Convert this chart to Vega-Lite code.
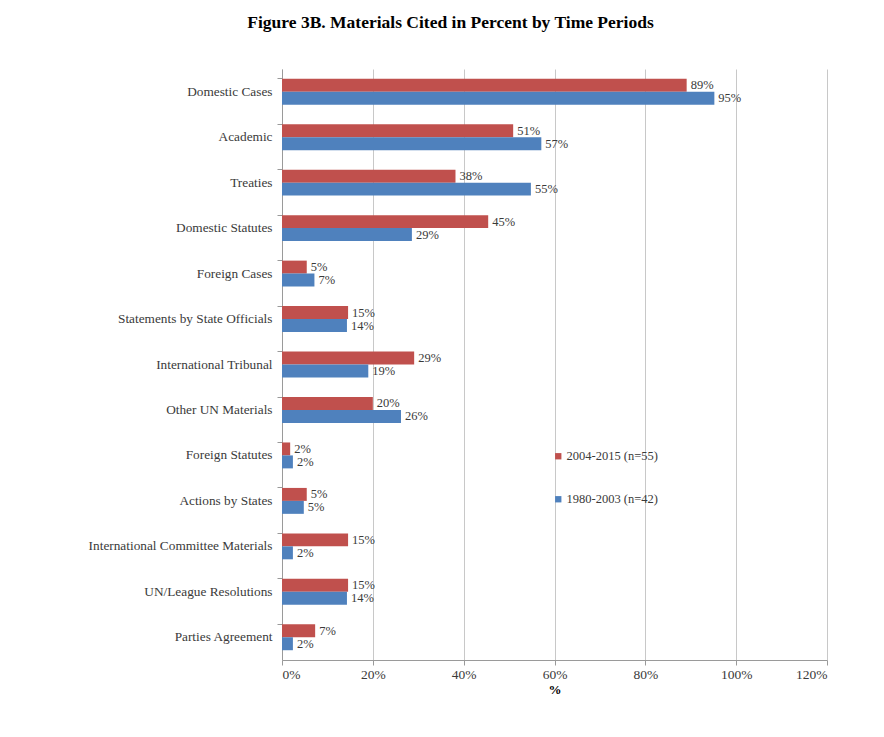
{
  "$schema": "https://vega.github.io/schema/vega-lite/v6.json",
  "width": 545,
  "height": 591,
  "padding": {"left": 88, "top": 13, "right": 10, "bottom": 10},
  "background": "white",
  "title": {
    "text": "Figure 3B. Materials Cited in Percent by Time Periods",
    "font": "Liberation Serif",
    "fontSize": 17.5,
    "fontWeight": "bold",
    "color": "black",
    "anchor": "middle",
    "frame": "group",
    "dx": -104,
    "offset": 38
  },
  "config": {
    "view": {"stroke": null},
    "font": "Liberation Serif"
  },
  "data": {
    "values": [
      {"category": "Domestic Cases", "period": "2004-2015 (n=55)", "value": 0.891},
      {"category": "Domestic Cases", "period": "1980-2003 (n=42)", "value": 0.952},
      {"category": "Academic", "period": "2004-2015 (n=55)", "value": 0.509},
      {"category": "Academic", "period": "1980-2003 (n=42)", "value": 0.571},
      {"category": "Treaties", "period": "2004-2015 (n=55)", "value": 0.382},
      {"category": "Treaties", "period": "1980-2003 (n=42)", "value": 0.548},
      {"category": "Domestic Statutes", "period": "2004-2015 (n=55)", "value": 0.454},
      {"category": "Domestic Statutes", "period": "1980-2003 (n=42)", "value": 0.286},
      {"category": "Foreign Cases", "period": "2004-2015 (n=55)", "value": 0.0545},
      {"category": "Foreign Cases", "period": "1980-2003 (n=42)", "value": 0.0714},
      {"category": "Statements by State Officials", "period": "2004-2015 (n=55)", "value": 0.1455},
      {"category": "Statements by State Officials", "period": "1980-2003 (n=42)", "value": 0.143},
      {"category": "International Tribunal ", "period": "2004-2015 (n=55)", "value": 0.291},
      {"category": "International Tribunal ", "period": "1980-2003 (n=42)", "value": 0.19},
      {"category": "Other UN Materials", "period": "2004-2015 (n=55)", "value": 0.2},
      {"category": "Other UN Materials", "period": "1980-2003 (n=42)", "value": 0.262},
      {"category": "Foreign Statutes", "period": "2004-2015 (n=55)", "value": 0.018},
      {"category": "Foreign Statutes", "period": "1980-2003 (n=42)", "value": 0.024},
      {"category": "Actions by States", "period": "2004-2015 (n=55)", "value": 0.0545},
      {"category": "Actions by States", "period": "1980-2003 (n=42)", "value": 0.048},
      {"category": "International Committee Materials", "period": "2004-2015 (n=55)", "value": 0.1455},
      {"category": "International Committee Materials", "period": "1980-2003 (n=42)", "value": 0.024},
      {"category": "UN/League Resolutions", "period": "2004-2015 (n=55)", "value": 0.1455},
      {"category": "UN/League Resolutions", "period": "1980-2003 (n=42)", "value": 0.143},
      {"category": "Parties Agreement", "period": "2004-2015 (n=55)", "value": 0.073},
      {"category": "Parties Agreement", "period": "1980-2003 (n=42)", "value": 0.024}
    ]
  },
  "encoding": {
    "y": {
      "field": "category",
      "type": "nominal",
      "sort": null,
      "scale": {"paddingInner": 0.43, "paddingOuter": 0.215},
      "axis": {
        "title": null,
        "bandPosition": 0,
        "tickSize": 5,
        "tickColor": "#9a9a9a",
        "domainColor": "#9a9a9a",
        "labelPadding": 5,
        "labelFont": "Liberation Serif",
        "labelFontSize": 13.3,
        "labelColor": "#3a3a3a",
        "labelLimit": 300,
        "grid": false
      }
    },
    "yOffset": {
      "field": "period",
      "type": "nominal",
      "sort": ["2004-2015 (n=55)", "1980-2003 (n=42)"]
    },
    "x": {
      "field": "value",
      "type": "quantitative",
      "scale": {"domain": [0, 1.2], "nice": false},
      "axis": {
        "title": "%",
        "format": ".0%",
        "values": [0, 0.2, 0.4, 0.6, 0.8, 1.0, 1.2],
        "grid": true,
        "gridColor": "#c8c8c8",
        "tickSize": 5,
        "tickColor": "#9a9a9a",
        "domainColor": "#9a9a9a",
        "labelPadding": 2,
        "labelFont": "Liberation Serif",
        "labelFontSize": 13.5,
        "labelColor": "#3a3a3a",
        "titleFont": "Liberation Serif",
        "titleFontSize": 13,
        "titleFontWeight": "bold",
        "titleColor": "black",
        "titlePadding": 3
      }
    }
  },
  "layer": [
    {
      "mark": {"type": "bar"},
      "encoding": {
        "color": {
          "field": "period",
          "type": "nominal",
          "sort": ["2004-2015 (n=55)", "1980-2003 (n=42)"],
          "scale": {"domain": ["2004-2015 (n=55)", "1980-2003 (n=42)"], "range": ["#C0504D", "#4F81BD"]},
          "legend": {
            "title": null,
            "orient": "none",
            "legendX": 270,
            "legendY": 381,
            "padding": 0,
            "symbolType": "square",
            "symbolSize": 40,
            "symbolStrokeWidth": 0,
            "labelOffset": 2,
            "rowPadding": 30,
            "labelFont": "Liberation Serif",
            "labelFontSize": 12.5,
            "labelColor": "#3a3a3a"
          }
        }
      }
    },
    {
      "mark": {
        "type": "text",
        "align": "left",
        "baseline": "middle",
        "dx": 4,
        "font": "Liberation Serif",
        "fontSize": 12.5,
        "color": "#3a3a3a"
      },
      "encoding": {
        "text": {"field": "value", "type": "quantitative", "format": ".0%"}
      }
    }
  ]
}
